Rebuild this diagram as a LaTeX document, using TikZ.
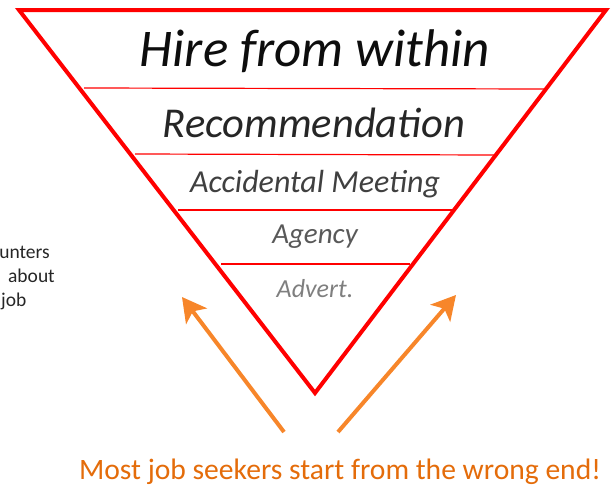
\documentclass[tikz,border=0pt]{standalone}
\usepackage{fontspec}
\setmainfont{Carlito}
\usetikzlibrary{arrows.meta}
\usepackage{xcolor}
\definecolor{funnelred}{HTML}{FF0000}
\definecolor{arroworange}{HTML}{F7862A}
\definecolor{noteorange}{HTML}{E46C0A}
\definecolor{tierone}{HTML}{0D0D0D}
\definecolor{tiertwo}{HTML}{262626}
\definecolor{tierthree}{HTML}{404040}
\definecolor{tierfour}{HTML}{595959}
\definecolor{tierfive}{HTML}{7F7F7F}
\definecolor{sidetext}{HTML}{262626}

\newcommand{\fsz}[1]{\fontsize{#1}{#1}\selectfont}

\tikzset{
  funnel/.style={funnelred,line width=4pt,line join=miter},
  divider/.style={funnelred,line width=1.2pt},
  tier/.style={anchor=base,inner sep=0pt},
  sidenote/.style={text=sidetext,inner sep=0pt,font=\fsz{19.5}},
  pusharrow/.style={arroworange,line width=4pt,-{Stealth[length=24pt,width=26pt,inset=6pt]}},
}

\begin{document}
\begin{tikzpicture}[x=1pt,y=-1pt]
    \useasboundingbox (0,0) rectangle (614,485);

    % Funnel outline
    \coordinate (tl) at (19,10);
    \coordinate (tr) at (606,10);
    \coordinate (apex) at (315,393);
    \draw[funnel] (tl) -- (tr) -- (apex) -- cycle;

    % Thin lines between the levels
    \draw[divider] (84,88) -- (546,89);
    \draw[divider] (135,154) -- (495,155);
    \draw[divider] (178,210) -- (453,210);
    \draw[divider] (221,264) -- (410,264);

    % Levels, best on top
    \node[tier,text=tierone,font=\itshape\fsz{53}] (within) at (315,66) {Hire from within};
    \node[tier,text=tiertwo,font=\itshape\fsz{42.5}] (recommend) at (314,137) {Recommendation};
    \node[tier,text=tierthree,font=\itshape\fsz{32}] (meeting) at (315,192) {Accidental Meeting};
    \node[tier,text=tierfour,font=\itshape\fsz{29}] (agency) at (315,243) {Agency};
    \node[tier,text=tierfive,font=\itshape\fsz{26}] (advert) at (315,297) {Advert.};

    % Side note, cut off at the left edge
    \node[sidenote,anchor=base east] (sideone) at (50,258) {unters};
    \node[sidenote,anchor=base east] (sidetwo) at (55,282) {about};
    \node[sidenote,anchor=base west] (sidethree) at (1,306) {job};

    % Arrows pushing from the bottom
    \coordinate (leftfoot) at (284,432);
    \coordinate (lefttip) at (182,297);
    \coordinate (rightfoot) at (338,432);
    \coordinate (righttip) at (456,295);
    \draw[pusharrow] (leftfoot) -- (lefttip);
    \draw[pusharrow] (rightfoot) -- (righttip);

    \node[anchor=base,inner sep=0pt,text=noteorange,font=\fsz{29.6}] (wrongend) at (340,479) {Most job seekers start from the wrong end!};
\end{tikzpicture}
\end{document}
